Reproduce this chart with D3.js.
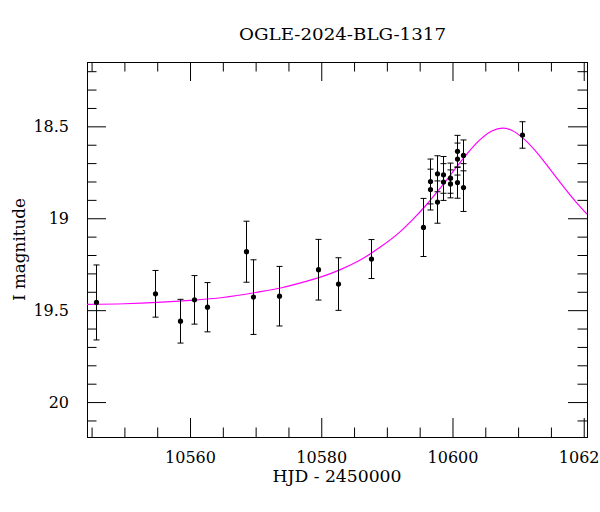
<!DOCTYPE html>
<html>
<head>
<meta charset="utf-8">
<script src="https://cdn.jsdelivr.net/npm/d3@7"></script>
<style>
  html, body { margin: 0; padding: 0; background: #fff; }
  svg { display: block; }
  text { font-family: "DejaVu Serif", serif; fill: #000; }
</style>
</head>
<body>
<div id="chart"></div>
<script>
// ---- data ----
const title = "OGLE-2024-BLG-1317";
const xLabel = "HJD - 2450000";
const yLabel = "I magnitude";

const obsT = [10545.62, 10554.62, 10558.47, 10560.56, 10562.59, 10568.59, 10569.61, 10573.58,
              10579.57, 10582.57, 10587.56, 10595.49, 10596.53, 10596.53, 10597.57, 10597.57,
              10598.59, 10598.59, 10599.61, 10599.61, 10600.62, 10600.62, 10600.62, 10601.60,
              10601.60, 10610.60];
const obsMag = [19.458, 19.411, 19.560, 19.444, 19.484, 19.182, 19.429, 19.424,
                19.280, 19.358, 19.222, 19.050, 18.800, 18.844, 18.758, 18.912,
                18.764, 18.803, 18.782, 18.813, 18.636, 18.678, 18.806, 18.658,
                18.833, 18.547];
const obsErr = [0.204, 0.127, 0.119, 0.132, 0.134, 0.166, 0.203, 0.162,
                0.165, 0.143, 0.106, 0.158, 0.122, 0.111, 0.098, 0.115,
                0.100, 0.100, 0.082, 0.076, 0.087, 0.087, 0.085, 0.084,
                0.130, 0.072];

const modelT = [10544.3, 10550, 10555, 10560, 10565, 10570, 10574, 10577, 10580, 10583,
                10586, 10589, 10592, 10594, 10596, 10598, 10600, 10602, 10604, 10606,
                10607.6, 10609, 10611, 10613, 10615, 10617, 10619, 10620.5];
const modelMag = [19.469, 19.465, 19.458, 19.447, 19.431, 19.404, 19.378, 19.350, 19.319, 19.278,
                  19.226, 19.157, 19.074, 19.005, 18.928, 18.842, 18.750, 18.659, 18.579, 18.525,
                  18.510, 18.521, 18.572, 18.648, 18.740, 18.832, 18.919, 18.978];

const xMajorTicks = [10560, 10580, 10600, 10620];
const xTickLabels = ["10560", "10580", "10600", "10620"];
const xMinorTicks = [10545, 10550, 10555, 10565, 10570, 10575, 10585, 10590, 10595, 10605, 10610, 10615];
const yMajorTicks = [18.5, 19, 19.5, 20];
const yTickLabels = ["18.5", "19", "19.5", "20"];
const yMinorTicks = [18.2, 18.3, 18.4, 18.6, 18.7, 18.8, 18.9, 19.1, 19.2, 19.3, 19.4,
                     19.6, 19.7, 19.8, 19.9, 20.1];

// ---- layout ----
const W = 600, H = 512;
const L = 87, R = 587, T = 62, B = 437;
const majorLen = 19, minorLen = 9.5;

const svg = d3.select("#chart").append("svg").attr("width", W).attr("height", H);

const x = d3.scaleLinear().domain([10544.3, 10620.5]).range([L, R]);
const y = d3.scaleLinear().domain([18.15, 20.19]).range([T, B]);

// clip
svg.append("defs").append("clipPath").attr("id", "plotclip")
  .append("rect").attr("x", L).attr("y", T).attr("width", R - L).attr("height", B - T);

// axes
function styleAxis(g) {
  g.select(".domain").remove();
  g.selectAll(".tick line").attr("stroke", "#000").attr("stroke-width", 1);
  g.selectAll("text").attr("font-family", "DejaVu Serif").attr("font-size", 16).attr("fill", "#000");
}

// bottom
svg.append("g").attr("transform", `translate(0,${B})`)
  .call(d3.axisBottom(x).tickValues(xMajorTicks).tickSize(-majorLen).tickPadding(15)
        .tickFormat((d, i) => xTickLabels[i]))
  .call(styleAxis);
svg.append("g").attr("transform", `translate(0,${B})`)
  .call(d3.axisBottom(x).tickValues(xMinorTicks).tickSize(-minorLen).tickFormat(""))
  .call(styleAxis);
// top
svg.append("g").attr("transform", `translate(0,${T})`)
  .call(d3.axisTop(x).tickValues(xMajorTicks).tickSize(-majorLen).tickFormat(""))
  .call(styleAxis);
svg.append("g").attr("transform", `translate(0,${T})`)
  .call(d3.axisTop(x).tickValues(xMinorTicks).tickSize(-minorLen).tickFormat(""))
  .call(styleAxis);
// left
svg.append("g").attr("transform", `translate(${L},0)`)
  .call(d3.axisLeft(y).tickValues(yMajorTicks).tickSize(-majorLen).tickPadding(18)
        .tickFormat((d, i) => yTickLabels[i]))
  .call(styleAxis);
svg.append("g").attr("transform", `translate(${L},0)`)
  .call(d3.axisLeft(y).tickValues(yMinorTicks).tickSize(-minorLen).tickFormat(""))
  .call(styleAxis);
// right
svg.append("g").attr("transform", `translate(${R},0)`)
  .call(d3.axisRight(y).tickValues(yMajorTicks).tickSize(-majorLen).tickFormat(""))
  .call(styleAxis);
svg.append("g").attr("transform", `translate(${R},0)`)
  .call(d3.axisRight(y).tickValues(yMinorTicks).tickSize(-minorLen).tickFormat(""))
  .call(styleAxis);

// frame
svg.append("rect").attr("x", L + 0.5).attr("y", T + 0.5)
  .attr("width", R - L).attr("height", B - T)
  .attr("fill", "none").attr("stroke", "#000").attr("stroke-width", 1);

const plot = svg.append("g").attr("clip-path", "url(#plotclip)");

// model curve
const model = modelT.map((t, i) => ({ t, m: modelMag[i] }));
plot.append("path").datum(model)
  .attr("fill", "none").attr("stroke", "#ff00ff").attr("stroke-width", 1.2)
  .attr("d", d3.line().x(d => x(d.t)).y(d => y(d.m)).curve(d3.curveMonotoneX));

// observations
const obs = obsT.map((t, i) => ({ t, m: obsMag[i], e: obsErr[i] }));
const cap = 3;
const eb = plot.append("g").attr("stroke", "#000").attr("stroke-width", 1);
obs.forEach(d => {
  const cx = Math.round(x(d.t)) + 0.5;
  const y1 = y(d.m - d.e), y2 = y(d.m + d.e);
  eb.append("line").attr("x1", cx).attr("x2", cx).attr("y1", y1).attr("y2", y2);
  eb.append("line").attr("x1", cx - cap).attr("x2", cx + cap).attr("y1", y1).attr("y2", y1);
  eb.append("line").attr("x1", cx - cap).attr("x2", cx + cap).attr("y1", y2).attr("y2", y2);
});
plot.append("g").selectAll("circle").data(obs).join("circle")
  .attr("cx", d => Math.round(x(d.t)) + 0.5)
  .attr("cy", d => y(d.m))
  .attr("r", 2.6)
  .attr("fill", "#000");

// texts
svg.append("text").attr("x", 342.5).attr("y", 40).attr("text-anchor", "middle")
  .attr("font-size", 16).attr("textLength", 207).attr("lengthAdjust", "spacingAndGlyphs")
  .text(title);
svg.append("text").attr("x", (L + R) / 2).attr("y", 482).attr("text-anchor", "middle")
  .attr("font-size", 16).attr("textLength", 129).attr("lengthAdjust", "spacingAndGlyphs")
  .text(xLabel);
svg.append("text").attr("transform", `translate(24.5,${(T + B) / 2}) rotate(-90)`)
  .attr("text-anchor", "middle")
  .attr("font-size", 16).attr("textLength", 103).attr("lengthAdjust", "spacingAndGlyphs")
  .text(yLabel);
</script>
</body>
</html>
